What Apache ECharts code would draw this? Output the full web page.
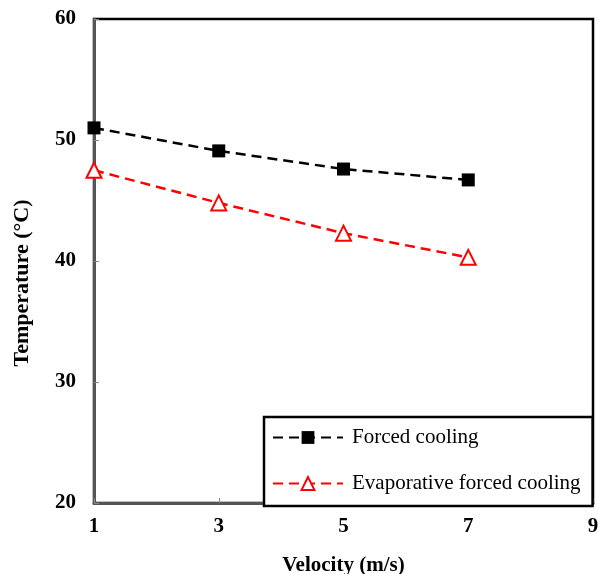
<!DOCTYPE html>
<html>
<head>
<meta charset="utf-8">
<script src="https://cdn.jsdelivr.net/npm/echarts@6/dist/echarts.min.js"></script>
<style>
  html, body { margin: 0; padding: 0; background: #fff; }
  #chart { width: 598px; height: 574px; }
</style>
</head>
<body>
<div id="chart"></div>
<script>
// velocity (m/s) on x, temperature on y
const velocity = [1, 3, 5, 7];
const forcedCooling = [51.0, 49.1, 47.6, 46.7];
const evaporativeCooling = [47.5, 44.8, 42.3, 40.3];

const serif = '"Liberation Serif", "Times New Roman", serif';

const chart = echarts.init(document.getElementById('chart'));

const pairs = (xs, ys) => xs.map((x, i) => [x, ys[i]]);

chart.setOption({
  animation: false,
  grid: {
    left: 94, right: 5, top: 19, bottom: 71,
    outerBoundsMode: 'none',
    containLabel: false,
    show: true, borderColor: '#000', borderWidth: 2.5
  },
  xAxis: {
    type: 'value', min: 1, max: 9, interval: 2,
    name: 'Velocity (m/s)', nameLocation: 'middle', nameGap: 52,
    nameTextStyle: { fontFamily: serif, fontWeight: 'bold', fontSize: 21, color: '#000' },
    axisLine: { lineStyle: { color: '#555', width: 3 } },
    axisTick: { inside: true, length: 5, lineStyle: { color: '#888', width: 1 } },
    axisLabel: { fontFamily: serif, fontWeight: 'bold', fontSize: 21, color: '#000', margin: 13 },
    splitLine: { show: false }
  },
  yAxis: {
    type: 'value', min: 20, max: 60, interval: 10,
    name: 'Temperature (°C)', nameLocation: 'middle', nameGap: 61,
    nameTextStyle: {
      fontFamily: serif, fontWeight: 'bold', fontSize: 22, color: '#000',
      padding: [0, 44, 0, 0]
    },
    axisLine: { show: true, lineStyle: { color: '#555', width: 3 } },
    axisTick: { show: true, inside: true, length: 5, lineStyle: { color: '#888', width: 1 } },
    axisLabel: { fontFamily: serif, fontWeight: 'bold', fontSize: 21, color: '#000', margin: 18 },
    splitLine: { show: false }
  },
  legend: {
    orient: 'vertical',
    left: 264, top: 417,
    padding: [10, 12, 12, 8],
    itemGap: 25,
    itemWidth: 70, itemHeight: 16,
    backgroundColor: '#fff',
    borderColor: '#000', borderWidth: 2.5,
    textStyle: { fontFamily: serif, fontSize: 21, color: '#000', padding: [0, 0, 0, 4] },
    data: ['Forced cooling', 'Evaporative forced cooling']
  },
  series: [
    {
      name: 'Forced cooling',
      type: 'line',
      data: pairs(velocity, forcedCooling),
      symbol: 'rect', symbolSize: 13,
      itemStyle: { color: '#000' },
      lineStyle: { color: '#000', width: 2.5, type: [10, 6] },
      z: 3
    },
    {
      name: 'Evaporative forced cooling',
      type: 'line',
      data: pairs(velocity, evaporativeCooling),
      symbol: 'triangle', symbolSize: 15,
      itemStyle: { color: '#fff', borderColor: '#f00', borderWidth: 2 },
      lineStyle: { color: '#f00', width: 2.5, type: [10, 6] },
      z: 3
    }
  ]
});
</script>
</body>
</html>
